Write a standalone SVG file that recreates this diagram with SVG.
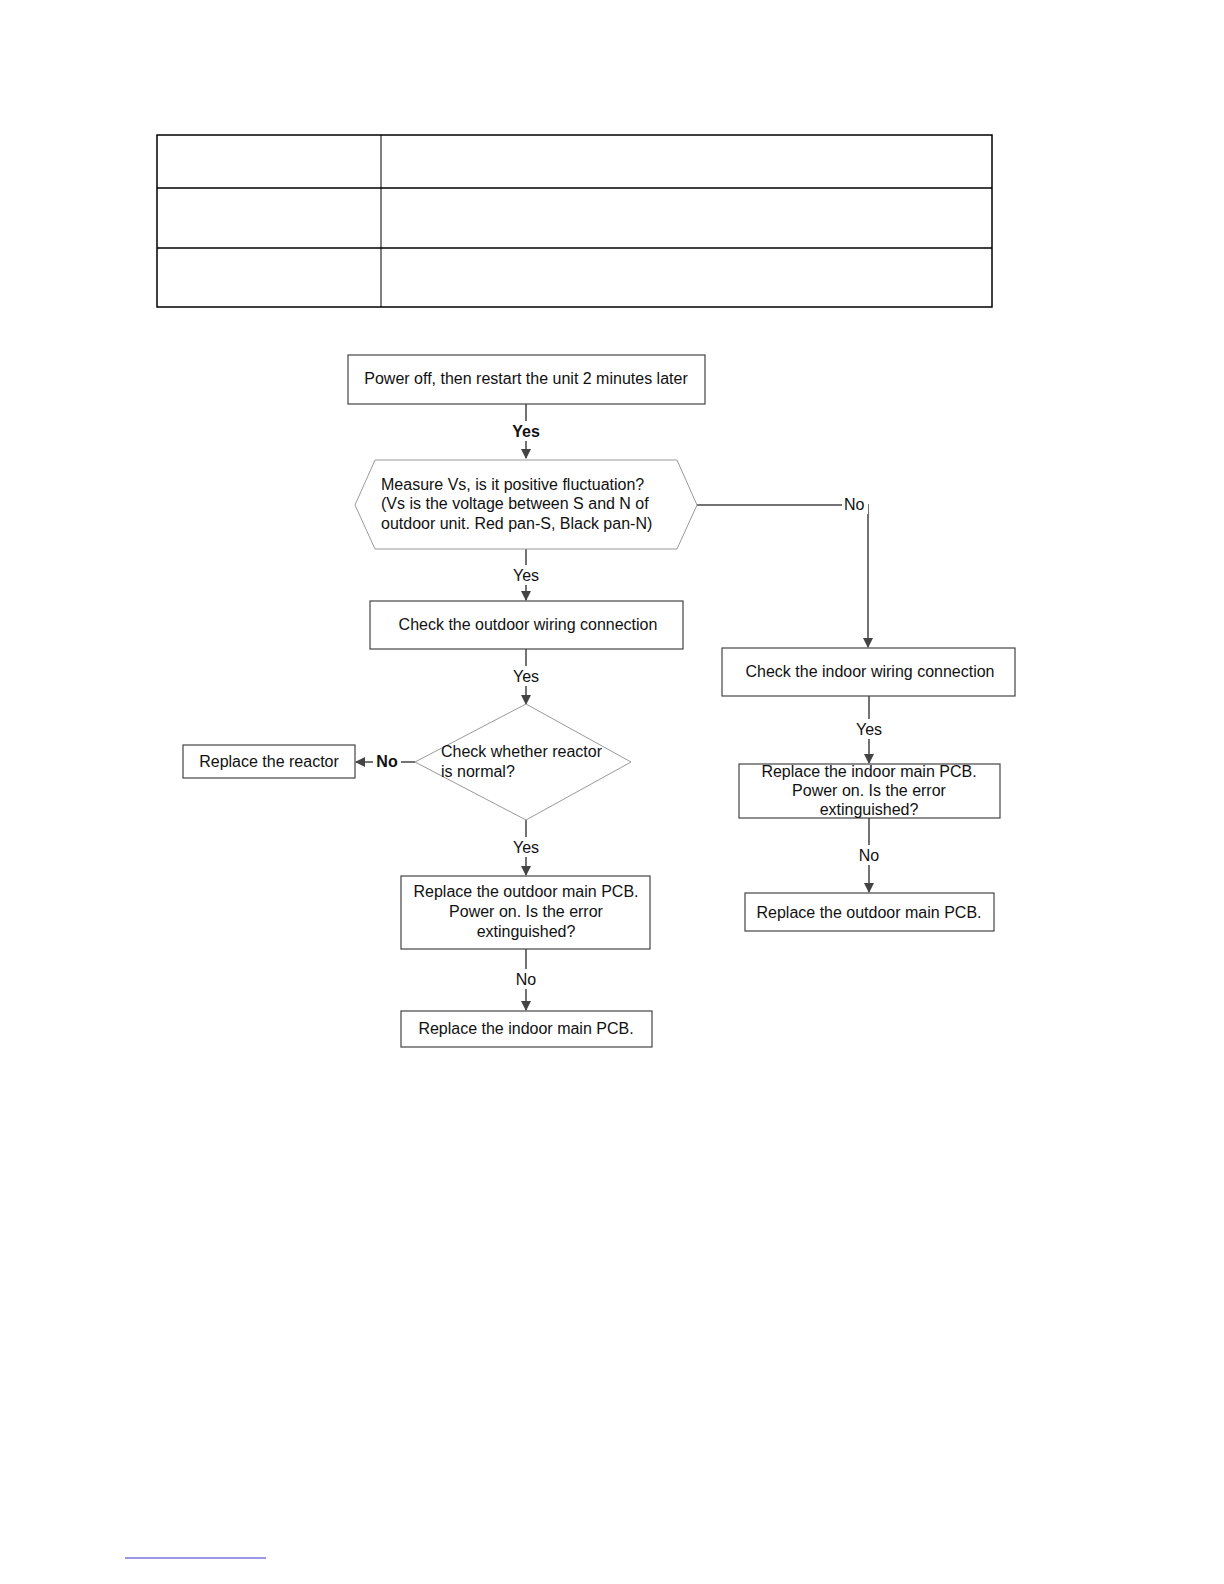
<svg xmlns="http://www.w3.org/2000/svg" width="1224" height="1584" viewBox="0 0 1224 1584">
<defs>
<style>
.t{font-family:"Liberation Sans",Arial,sans-serif;font-size:16px;fill:#111;}
.c{text-anchor:middle;}
.b{font-weight:bold;}
.box{fill:#fff;stroke:#444;stroke-width:1.2;}
.sh{fill:#fff;stroke:#999;stroke-width:1;}
.ln{fill:none;stroke:#444;stroke-width:1.5;}
.tb{fill:none;stroke:#000;stroke-width:1.5;}
</style>
<marker id="ah" markerWidth="10" markerHeight="10" refX="9" refY="5" orient="auto" markerUnits="userSpaceOnUse">
<path d="M0,0 L10,5 L0,10 z" fill="#444"/>
</marker>
</defs>
<rect width="1224" height="1584" fill="#fff"/>
<g id="table">
<rect class="tb" x="157" y="135" width="835" height="172"/>
<line class="tb" x1="157" y1="188" x2="992" y2="188"/>
<line class="tb" x1="157" y1="248" x2="992" y2="248"/>
<line x1="381" y1="135" x2="381" y2="307" stroke="#000" stroke-width="1"/>
</g>
<g id="connectors">
<line class="ln" x1="526" y1="404" x2="526" y2="458" marker-end="url(#ah)"/>
<polyline class="ln" points="697,505 868,505 868,647" marker-end="url(#ah)"/>
<line class="ln" x1="526" y1="549" x2="526" y2="600" marker-end="url(#ah)"/>
<line class="ln" x1="526" y1="649" x2="526" y2="704" marker-end="url(#ah)"/>
<line class="ln" x1="415" y1="762" x2="356" y2="762" marker-end="url(#ah)"/>
<line class="ln" x1="526" y1="820" x2="526" y2="875" marker-end="url(#ah)"/>
<line class="ln" x1="526" y1="949" x2="526" y2="1010" marker-end="url(#ah)"/>
<line class="ln" x1="869" y1="696" x2="869" y2="763" marker-end="url(#ah)"/>
<line class="ln" x1="869" y1="818" x2="869" y2="892" marker-end="url(#ah)"/>
<rect x="508" y="421" width="36" height="20" fill="#fff"/>
<rect x="842" y="495" width="26" height="19" fill="#fff"/>
<rect x="509" y="565" width="34" height="20" fill="#fff"/>
<rect x="509" y="666" width="34" height="20" fill="#fff"/>
<rect x="373" y="752" width="28" height="19" fill="#fff"/>
<rect x="509" y="837" width="34" height="20" fill="#fff"/>
<rect x="513" y="969" width="26" height="20" fill="#fff"/>
<rect x="852" y="719" width="34" height="20" fill="#fff"/>
<rect x="856" y="845" width="26" height="20" fill="#fff"/>
<text class="t c b" x="526" y="437">Yes</text>
<text class="t" x="844" y="510">No</text>
<text class="t c" x="526" y="581">Yes</text>
<text class="t c" x="526" y="682">Yes</text>
<text class="t c b" x="387" y="767">No</text>
<text class="t c" x="526" y="853">Yes</text>
<text class="t c" x="526" y="985">No</text>
<text class="t c" x="869" y="735">Yes</text>
<text class="t c" x="869" y="861">No</text>
</g>
<g id="n1">
<rect class="box" x="348" y="355" width="357" height="49"/>
<text class="t c" x="526" y="384">Power off, then restart the unit 2 minutes later</text>
</g>
<g id="n2">
<polygon class="sh" points="355,505 375,460 677,460 697,505 677,549 375,549"/>
<text class="t" x="381" y="490">Measure  Vs, is it  positive fluctuation?</text>
<text class="t" x="381" y="509">(Vs is the voltage between S and N of</text>
<text class="t" x="381" y="529">outdoor unit. Red pan-S, Black pan-N)</text>
</g>
<g id="n3">
<rect class="box" x="370" y="601" width="313" height="48"/>
<text class="t c" x="528" y="630">Check the outdoor wiring connection</text>
</g>
<g id="n4">
<polygon class="sh" points="526,704 631,762 526,820 415,762"/>
<text class="t" x="441" y="757">Check whether reactor</text>
<text class="t" x="441" y="777">is normal?</text>
</g>
<g id="n5">
<rect class="box" x="183" y="745" width="172" height="33"/>
<text class="t c" x="269" y="767">Replace  the reactor</text>
</g>
<g id="n6">
<rect class="box" x="401" y="876" width="249" height="73"/>
<text class="t c" x="526" y="897">Replace the outdoor main PCB.</text>
<text class="t c" x="526" y="917">Power on. Is the error</text>
<text class="t c" x="526" y="937">extinguished?</text>
</g>
<g id="n7">
<rect class="box" x="401" y="1011" width="251" height="36"/>
<text class="t c" x="526" y="1034">Replace the indoor main PCB.</text>
</g>
<g id="n8">
<rect class="box" x="722" y="648" width="293" height="48"/>
<text class="t c" x="870" y="677">Check the indoor wiring connection</text>
</g>
<g id="n9">
<rect class="box" x="739" y="764" width="261" height="54"/>
<text class="t c" x="869" y="777">Replace the indoor main PCB.</text>
<text class="t c" x="869" y="796">Power on. Is the error</text>
<text class="t c" x="869" y="815">extinguished?</text>
</g>
<g id="n10">
<rect class="box" x="745" y="893" width="249" height="38"/>
<text class="t c" x="869" y="918">Replace  the outdoor main PCB.</text>
</g>
<line x1="125" y1="1558" x2="266" y2="1558" stroke="#33c" stroke-width="1"/>
</svg>
